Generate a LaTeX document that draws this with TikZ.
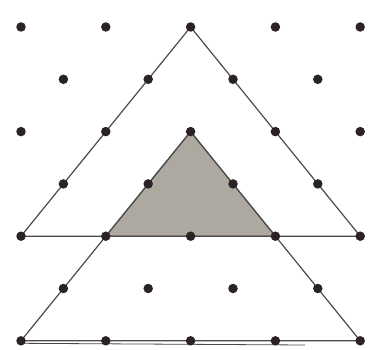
\documentclass[tikz,border=0pt]{standalone}
\usepackage{tikz}
\usetikzlibrary{calc}
\definecolor{dotink}{HTML}{2B2226}
\definecolor{pencil}{HTML}{4A4A4A}
\definecolor{shade}{HTML}{ADA9A1}
\tikzset{
  latdot/.style={circle, fill=dotink, inner sep=0pt, minimum size=9.5pt},
  edge/.style={draw=pencil, line width=1.2pt, line join=round},
  shaded/.style={fill=shade, draw=pencil!80, line width=1.2pt, line join=round}
}

\begin{document}
\begin{tikzpicture}[x=1pt,y=-1pt]
  \useasboundingbox (0,0) rectangle (369,350);
  % lattice points, row r, column k (k and r same parity)
  \foreach \r in {0,...,6} {
    \foreach \k in {0,...,8} {
      \pgfmathtruncatemacro{\oddsum}{mod(\r+\k,2)}
      \ifnum\oddsum=0
        \coordinate (p-\r-\k) at ({21+42.4*\k},{27+52.3*\r});
      \fi
    }
  }
  % shaded triangle
  \fill[shaded] (p-2-4.center) -- (p-4-2.center) -- (p-4-6.center) -- cycle;
  % upper triangle
  \draw[edge] (p-0-4.center) -- (p-4-0.center) -- (p-4-8.center) -- cycle;
  % lower triangle, base drawn twice
  \coordinate (stroke end) at (305,345);
  \draw[edge] (p-2-4.center) -- (p-6-0.center) -- (p-6-8.center) -- cycle;
  \draw[edge, line width=0.8pt] ($(p-6-0.center)+(0,2.5)$) -- (stroke end);
  % dots on top
  \foreach \r in {0,...,6} {
    \foreach \k in {0,...,8} {
      \pgfmathtruncatemacro{\oddsum}{mod(\r+\k,2)}
      \ifnum\oddsum=0
        \node[latdot] (d-\r-\k) at (p-\r-\k) {};
      \fi
    }
  }
\end{tikzpicture}
\end{document}
